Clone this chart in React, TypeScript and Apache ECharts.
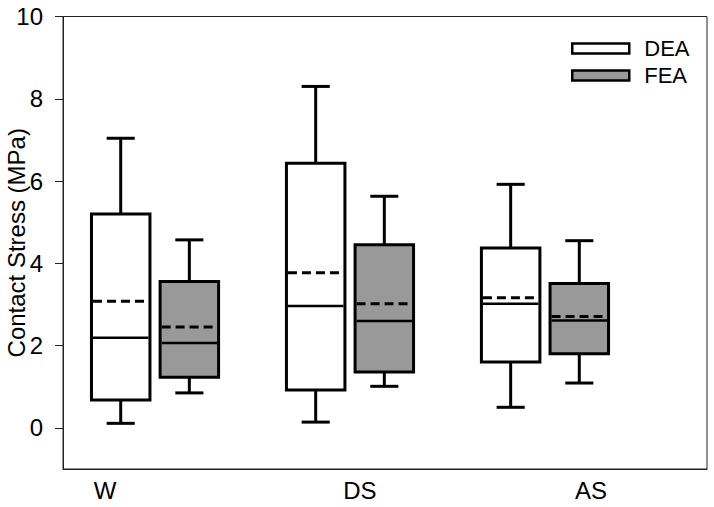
import React, { useEffect, useRef } from "react";
import * as echarts from "echarts";

const categories = ["W", "DS", "AS"];
const groupPos = [1, 2, 3];
const deaMin = [0.11, 0.14, 0.5];
const deaQ1 = [0.68, 0.92, 1.6];
const deaMedian = [2.19, 2.96, 3.02];
const deaQ3 = [5.2, 6.43, 4.37];
const deaMax = [7.04, 8.3, 5.92];
const deaMean = [3.08, 3.77, 3.16];
const feaMin = [0.85, 1.01, 1.09];
const feaQ1 = [1.23, 1.36, 1.8];
const feaMedian = [2.06, 2.6, 2.61];
const feaQ3 = [3.56, 4.45, 3.51];
const feaMax = [4.57, 5.63, 4.55];
const feaMean = [2.45, 3.02, 2.71];
const yTicks = [0, 2, 4, 6, 8, 10];

// layout (not data)
const labelPos = [0.744, 2.051, 3.236];
const BOX_W = 0.3;
const CAP_W = 0.144;
const OFFSET = 0.176;
const FONT = "'Liberation Sans', Arial, sans-serif";

function build(mins: number[], q1: number[], med: number[], q3: number[], maxs: number[], means: number[]) {
  return groupPos.map((x, i) => [x, mins[i], q1[i], med[i], q3[i], maxs[i], means[i]]);
}

function makeRender(offset: number, fill: string) {
  return (params: any, api: any) => {
    const x = api.value(0) + offset;
    const c = (v: number) => api.coord([x, v]);
    const w = api.size([BOX_W, 0])[0];
    const cw = api.size([CAP_W, 0])[0];
    const [cx, yLo] = c(api.value(1));
    const yQ1 = c(api.value(2))[1];
    const yMed = c(api.value(3))[1];
    const yQ3 = c(api.value(4))[1];
    const yHi = c(api.value(5))[1];
    const yMean = c(api.value(6))[1];
    const ln = (x1: number, y1: number, x2: number, y2: number, lw: number, dash?: number[]) => ({
      type: "line",
      shape: { x1, y1, x2, y2 },
      style: { stroke: "#000", lineWidth: lw, lineDash: dash || null, fill: null },
    });
    const left = cx - w / 2;
    const right = cx + w / 2;
    return {
      type: "group",
      children: [
        ln(cx, yHi, cx, yQ3, 3),
        ln(cx, yQ1, cx, yLo, 3),
        ln(cx - cw / 2, yHi, cx + cw / 2, yHi, 3),
        ln(cx - cw / 2, yLo, cx + cw / 2, yLo, 3),
        {
          type: "rect",
          shape: { x: left, y: yQ3, width: w, height: yQ1 - yQ3 },
          style: { fill, stroke: "#000", lineWidth: 3 },
        },
        ln(left + 1.5, yMed, right - 1.5, yMed, 2.5),
        ln(left + 1.5, yMean, right - 1.5, yMean, 3, [9, 5]),
      ],
    };
  };
}

export default function App() {
  const ref = useRef<HTMLDivElement>(null);
  useEffect(() => {
    if (!ref.current) return;
    const chart = echarts.init(ref.current, null, { renderer: "svg" });
    chart.setOption({
      animation: false,
      backgroundColor: "#fff",
      textStyle: { fontFamily: FONT },
      grid: {
        left: 63,
        right: 7,
        top: 16.5,
        bottom: 38,
        containLabel: false,
        outerBoundsMode: "none",
        show: true,
        borderColor: "#222",
        borderWidth: 1,
      },
      legend: {
        orient: "vertical",
        left: 571,
        top: 37.5,
        padding: 0,
        icon: "rect",
        itemWidth: 57,
        itemHeight: 10,
        itemGap: 5,
        textStyle: { fontSize: 22, color: "#000", fontFamily: FONT, padding: [0, 0, 0, 10] },
        data: [
          { name: "DEA", itemStyle: { color: "#fff", borderColor: "#000", borderWidth: 2.5 } },
          { name: "FEA", itemStyle: { color: "#999", borderColor: "#000", borderWidth: 2.5 } },
        ],
      },
      xAxis: {
        type: "value",
        min: 0.528,
        max: 3.831,
        axisLine: { show: true, onZero: false, lineStyle: { color: "#222", width: 1 } },
        axisTick: { show: false },
        splitLine: { show: false },
        axisLabel: {
          customValues: labelPos,
          margin: 9,
          fontSize: 24,
          color: "#000",
          fontFamily: FONT,
          formatter: (v: number) => {
            const i = labelPos.findIndex((p) => Math.abs(p - v) < 1e-6);
            return i >= 0 ? categories[i] : "";
          },
        },
      },
      yAxis: {
        type: "value",
        min: -1,
        max: 10,
        name: "Contact Stress (MPa)",
        nameLocation: "middle",
        nameGap: 35,
        nameMoveOverlap: false,
        nameTextStyle: { fontSize: 24, color: "#000", fontFamily: FONT },
        axisLine: { show: true, onZero: false, lineStyle: { color: "#222", width: 1 } },
        axisTick: { show: true, length: 8, customValues: yTicks, lineStyle: { color: "#222", width: 1 } },
        splitLine: { show: false },
        axisLabel: { customValues: yTicks, margin: 20, fontSize: 24, color: "#000", fontFamily: FONT },
      },
      series: [
        {
          name: "DEA",
          type: "custom",
          renderItem: makeRender(-OFFSET, "#fff"),
          itemStyle: { color: "#fff", borderColor: "#000" },
          encode: { x: 0, y: [1, 2, 3, 4, 5, 6] },
          data: build(deaMin, deaQ1, deaMedian, deaQ3, deaMax, deaMean),
        },
        {
          name: "FEA",
          type: "custom",
          renderItem: makeRender(OFFSET, "#999"),
          itemStyle: { color: "#999", borderColor: "#000" },
          encode: { x: 0, y: [1, 2, 3, 4, 5, 6] },
          data: build(feaMin, feaQ1, feaMedian, feaQ3, feaMax, feaMean),
        },
      ],
    });
    return () => chart.dispose();
  }, []);
  return (
    <div
      ref={ref}
      style={{ position: "fixed", left: 0, top: 0, width: 714, height: 507, background: "#fff" }}
    />
  );
}
